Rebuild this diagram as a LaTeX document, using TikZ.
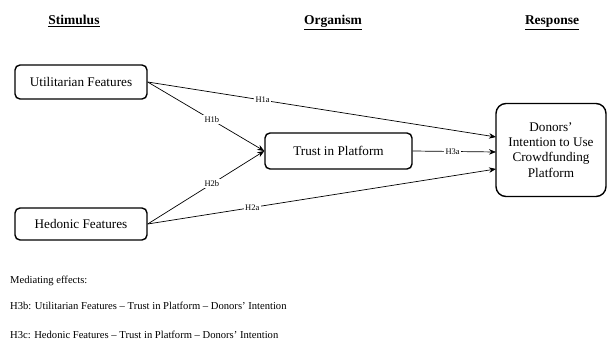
\documentclass[tikz,border=0pt]{standalone}
\usepackage{fontspec}
\setmainfont{Liberation Serif}
\usetikzlibrary{arrows.meta}
\begin{document}
\begin{tikzpicture}[x=1pt,y=-1pt,
  box/.style={draw,line width=1.4pt,rounded corners=5pt,inner sep=0pt,font=\fontsize{13.2}{15}\selectfont,align=center},
  conn/.style={line width=0.7pt,-{Stealth[length=7pt,width=5.5pt]}},
  lab/.style={fill=white,inner sep=1.5pt,font=\fontsize{8.5}{9}\selectfont},
  head/.style={anchor=base,font=\fontsize{13.5}{15}\selectfont\bfseries},
  note/.style={anchor=west,font=\fontsize{10.6}{12}\selectfont,inner sep=0pt}]
\useasboundingbox[fill=white] (0,0) rectangle (608,342);
\node[head] (hs) at (74,25) {\underline{Stimulus}};
\node[head] (ho) at (333,25) {\underline{Organism}};
\node[head] (hr) at (552,25) {\underline{Response}};
\node[box,minimum width=132pt,minimum height=34pt] (u) at (81,82) {Utilitarian Features};
\node[box,minimum width=132pt,minimum height=32pt] (h) at (81,224) {Hedonic Features};
\node[box,minimum width=147pt,minimum height=36pt] (t) at (338.5,151) {Trust in Platform};
\node[box,minimum width=110pt,minimum height=93pt,rounded corners=10pt,font=\fontsize{13.2}{15.3}\selectfont] (d) at (551,150) {Donors'\\Intention to Use\\Crowdfunding\\Platform};
\coordinate (d1) at (496,137);
\coordinate (d2) at (496,152);
\coordinate (d3) at (496,169);
\draw[conn] (u.east) -- node[lab,pos=0.33]{H1a} (d1);
\draw[conn] (u.east) -- node[lab,pos=0.55]{H1b} (t.west);
\draw[conn] (h.east) -- node[lab,pos=0.55]{H2b} (t.west);
\draw[conn] (h.east) -- node[lab,pos=0.30]{H2a} (d3);
\draw[conn] (t.east) -- node[lab,pos=0.48]{H3a} (d2);
\node[note] (m0) at (10,281) {Mediating effects:};
\node[note] (m1) at (10,306) {H3b: Utilitarian Features -- Trust in Platform -- Donors' Intention};
\node[note] (m2) at (10,335) {H3c: Hedonic Features -- Trust in Platform -- Donors' Intention};
\end{tikzpicture}
\end{document}
